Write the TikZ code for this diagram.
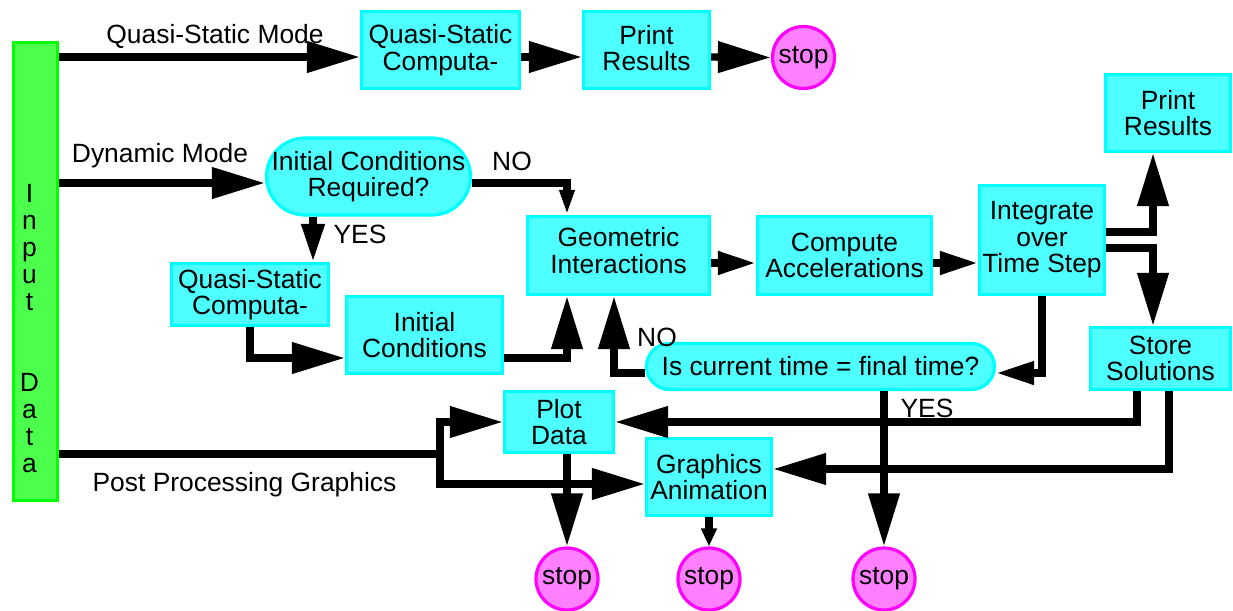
\documentclass[tikz,border=0pt]{standalone}
\usepackage{fontspec}
\setmainfont{Liberation Sans}
\usepackage{xcolor}
\usepackage{tikz}
\usetikzlibrary{arrows.meta}

\definecolor{cyanfill}{RGB}{77,255,255}
\definecolor{cyanedge}{RGB}{0,255,255}
\definecolor{stopfill}{RGB}{255,128,255}
\definecolor{stopedge}{RGB}{255,0,255}
\definecolor{barfill}{RGB}{77,255,77}
\definecolor{baredge}{RGB}{0,255,0}

\begin{document}
\begin{tikzpicture}[
    x=0.5pt, y=-0.5pt,
    font=\fontsize{13.2}{13.3}\selectfont,
    procnode/.style={rectangle, draw=cyanedge, fill=cyanfill, line width=1.6pt, inner sep=0pt, align=center},
    asknode/.style={procnode, rounded corners=#1},
    stopnode/.style={circle, draw=stopedge, fill=stopfill, line width=1.6pt, inner sep=0pt, minimum size=31pt},
    barnode/.style={rectangle, draw=baredge, fill=barfill, line width=1.6pt, inner sep=0pt},
    flowlabel/.style={anchor=base, inner sep=0pt},
    flowline/.style={line width=3.7pt, line join=miter},
    bigflow/.style={flowline, -{Triangle[length=26.5pt, width=15pt]}},
    midflow/.style={flowline, -{Triangle[length=19pt, width=11pt]}},
    smallflow/.style={flowline, -{Triangle[length=12.5pt, width=7pt]}},
    tinyflow/.style={flowline, -{Triangle[length=9pt, width=7.5pt]}},
]
\useasboundingbox (0,0) rectangle (1233,611);

% input bar
\node[barnode, minimum width=22pt, minimum height=229pt](inbar) at (35.5,271.5) {};
\node[inner sep=0pt, align=center, font=\fontsize{13.2}{13.5}\selectfont](intext) at (29.5,329) {I\\n\\p\\u\\t\\[27pt]D\\a\\t\\a};

% quasi-static branch
\node[procnode, minimum width=79pt, minimum height=38.5pt](qsa) at (440.5,50) {Quasi-Static\\Computa-};
\node[procnode, minimum width=63pt, minimum height=38.5pt, text depth=2pt](prta) at (646.5,50) {Print\\Results};
\node[stopnode](stopa) at (803.5,57.5) {stop};

% dynamic branch
\node[asknode=19.25pt, minimum width=102pt, minimum height=38.5pt](ica) at (368.5,176.5) {Initial Conditions\\Required?};
\node[procnode, minimum width=78.5pt, minimum height=31pt](qsb) at (250,294.5) {Quasi-Static\\Computa-};
\node[procnode, minimum width=78pt, minimum height=38.5pt](initc) at (424.5,335) {Initial\\Conditions};
\node[procnode, minimum width=91pt, minimum height=39pt, text depth=5pt](geom) at (618.5,255.5) {Geometric\\Interactions};
\node[procnode, minimum width=87pt, minimum height=39pt](comp) at (844.5,255.5) {Compute\\Accelerations};
\node[procnode, minimum width=62.5pt, minimum height=54.5pt](integ) at (1042,240) {Integrate\\over\\Time Step};
\node[procnode, minimum width=62.5pt, minimum height=38.5pt](prtb) at (1168,113) {Print\\Results};
\node[procnode, minimum width=70pt, minimum height=31pt](store) at (1160.5,358.5) {Store\\Solutions};
\node[asknode=11.5pt, minimum width=174pt, minimum height=23pt](isfin) at (820.5,366.5) {Is current time = final time?};

% post processing
\node[procnode, minimum width=54.5pt, minimum height=30.5pt](plot) at (559,422) {Plot\\Data};
\node[procnode, minimum width=62.5pt, minimum height=38.5pt](graph) at (709,477) {Graphics\\Animation};
\node[stopnode](stopb) at (567,579) {stop};
\node[stopnode](stopc) at (709,579) {stop};
\node[stopnode](stopd) at (884,579) {stop};

% rows and columns of the connectors
\coordinate (qsrow) at (0,57);
\coordinate (dynrow) at (0,183);
\coordinate (yescol) at (313,0);
\coordinate (gcolL) at (567,0);
\coordinate (gcolR) at (614,0);
\coordinate (icrow) at (0,358);
\coordinate (gcrow) at (0,263);
\coordinate (uprow) at (0,232);
\coordinate (dnrow) at (0,248);
\coordinate (pcol) at (1153,0);
\coordinate (finrow) at (0,373);
\coordinate (scolA) at (1137,0);
\coordinate (scolB) at (1169,0);
\coordinate (grrowR) at (0,469);
\coordinate (grrowL) at (0,484);
\coordinate (pbranch) at (440,454);

\draw[bigflow] (inbar.east |- qsrow) -- (qsa.west |- qsrow);
\draw[bigflow] (qsa.east |- qsrow) -- (prta.west |- qsrow);
\draw[bigflow] (prta.east |- qsrow) -- (stopa.west);

\draw[bigflow] (inbar.east |- dynrow) -- (ica.west |- dynrow);
\draw[midflow] (ica.south -| yescol) -- (qsb.north -| yescol);
\draw[smallflow] (ica.east |- dynrow) -| (geom.north -| gcolL);
\draw[bigflow] (qsb.south) |- (initc.west |- icrow);
\draw[bigflow] (initc.east |- icrow) -| (geom.south -| gcolL);
\draw[bigflow] (isfin.west |- finrow) -| (geom.south -| gcolR);
\draw[midflow] (geom.east |- gcrow) -- (comp.west |- gcrow);
\draw[midflow] (comp.east |- gcrow) -- (integ.west |- gcrow);
\draw[bigflow] (integ.east |- uprow) -| (prtb.south -| pcol);
\draw[bigflow] (integ.east |- dnrow) -| (store.north -| pcol);
\draw[midflow] (integ.south) |- (isfin.east |- finrow);
\draw[bigflow] (isfin.south -| stopd) -- (stopd.north);
\draw[bigflow] (store.south -| scolA) |- (plot.east);
\draw[bigflow] (store.south -| scolB) |- (graph.east |- grrowR);

\draw[flowline] (inbar.east |- pbranch) -- (pbranch);
\draw[bigflow] (pbranch) |- (plot.west);
\draw[bigflow] (pbranch) |- (graph.west |- grrowL);
\draw[bigflow] (plot.south -| stopb) -- (stopb.north);
\draw[tinyflow] (graph.south) -- (stopc.north);

% labels
\node[flowlabel](lqs) at (215,43) {Quasi-Static Mode};
\node[flowlabel](ldyn) at (160,162) {Dynamic Mode};
\node[flowlabel](lyesa) at (360,243) {YES};
\node[flowlabel](lnoa) at (512,170) {NO};
\node[flowlabel](lnob) at (657,346) {NO};
\node[flowlabel](lyesb) at (927,417) {YES};
\node[flowlabel](lpost) at (244.5,491) {Post Processing Graphics};
\end{tikzpicture}
\end{document}
